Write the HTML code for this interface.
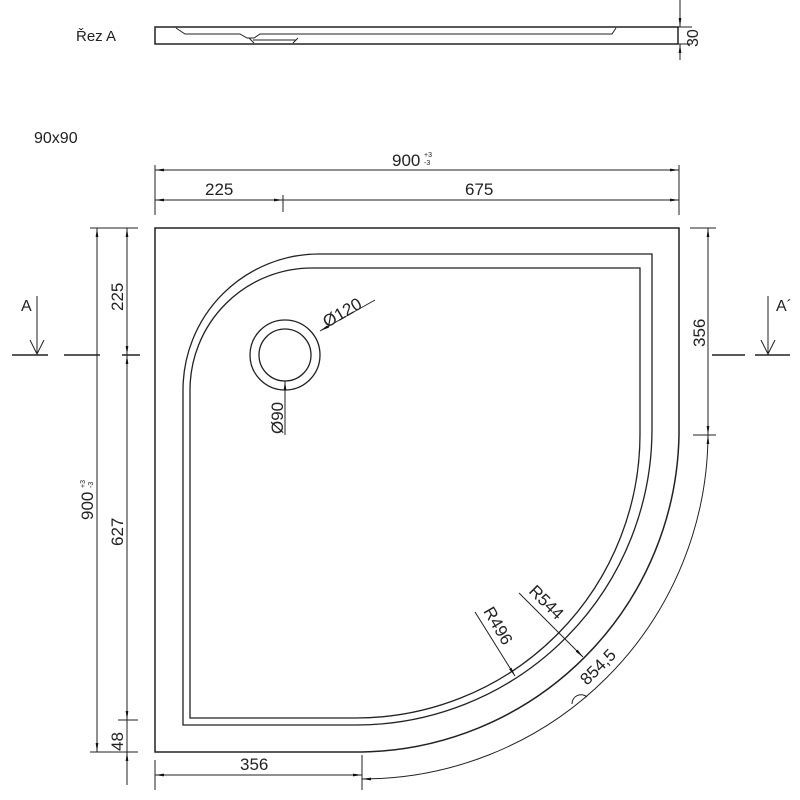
<!DOCTYPE html>
<html><head><meta charset="utf-8"><style>
html,body{margin:0;padding:0;background:#fff;width:800px;height:800px;overflow:hidden}
text{font-family:"Liberation Sans",sans-serif;fill:#222}
</style></head><body>
<svg width="800" height="800" viewBox="0 0 800 800" xmlns="http://www.w3.org/2000/svg">
<defs>
<marker id="a" viewBox="0 0 10 10" refX="10" refY="5" markerWidth="9" markerHeight="9" orient="auto-start-reverse"><path d="M0,3.5 L10,5 L0,6.5 z" fill="#111"/></marker>
</defs>
<g stroke="#222" fill="none" stroke-width="1">
<!-- section view -->
<text x="76" y="41" font-size="15" stroke="none">Řez A</text>
<rect x="155" y="27" width="523" height="17" stroke-width="1.5"/>
<path d="M176,28 L185,34 L240,34 L247,38 L254,38 L260,34 L612,34 L616,28"/>
<path d="M249,38 L254,43 M298,38 L293,43 M253,40 L296,40"/>
<path d="M660,27 L692,27 M660,44 L692,44"/>
<line x1="680" y1="0" x2="680" y2="27" marker-end="url(#a)"/>
<line x1="680" y1="60" x2="680" y2="44" marker-end="url(#a)"/>
<text x="0" y="0" font-size="16" stroke="none" transform="translate(698,47) rotate(-90)">30</text>

<text x="34" y="143" font-size="16" stroke="none">90x90</text>

<!-- main outline -->
<path d="M155,228 L679,228 L679,435 A323,323 0 0 1 362,752 L155,752 Z" stroke-width="1.5"/>
<path d="M183,390 A136,136 0 0 1 319,254 L652,254 L652,429 A296,296 0 0 1 356,725 L183,725 Z" stroke-width="1.3"/>
<path d="M190,390 A122,122 0 0 1 312,268 L640,268 L640,432 A284,284 0 0 1 356,718 L190,718 Z" stroke-width="1.3"/>
<!-- arc length dim -->
<path d="M708,435 A346,346 0 0 1 362,779" marker-start="url(#a)" marker-end="url(#a)"/>
<!-- drain -->
<circle cx="285" cy="355" r="35" stroke-width="1.3"/>
<circle cx="285" cy="355" r="26" stroke-width="1.3"/>
<line x1="375" y1="300" x2="320" y2="331" marker-end="url(#a)"/>
<text x="0" y="0" font-size="17" stroke="none" transform="translate(327,328) rotate(-30)">Ø120</text>
<line x1="285" y1="435" x2="285" y2="381" marker-end="url(#a)"/>
<text x="0" y="0" font-size="17" stroke="none" transform="translate(283,434) rotate(-90)">Ø90</text>
<!-- radii -->
<line x1="475" y1="612" x2="515" y2="676" marker-end="url(#a)"/>
<text x="0" y="0" font-size="17" stroke="none" transform="translate(483,611) rotate(60)">R496</text>
<line x1="519" y1="593" x2="583" y2="657" marker-end="url(#a)"/>
<text x="0" y="0" font-size="17" stroke="none" transform="translate(528,592) rotate(45)">R544</text>
<text x="0" y="0" font-size="17" stroke="none" transform="translate(587,686) rotate(-45)">854,5</text>
<path d="M572,704 A9,9 0 0 1 587,697"/>

<!-- top dims -->
<line x1="155" y1="165" x2="155" y2="215"/>
<line x1="679" y1="165" x2="679" y2="215"/>
<line x1="283" y1="195" x2="283" y2="212"/>
<line x1="155" y1="170" x2="679" y2="170" marker-start="url(#a)" marker-end="url(#a)"/>
<text x="392" y="166" font-size="17" stroke="none">900</text>
<text x="424" y="157" font-size="7" stroke="none">+3</text>
<text x="424" y="165" font-size="7" stroke="none">-3</text>
<line x1="155" y1="200" x2="283" y2="200" marker-start="url(#a)" marker-end="url(#a)"/>
<line x1="283" y1="200" x2="679" y2="200" marker-end="url(#a)"/>
<text x="205" y="195" font-size="17" stroke="none">225</text>
<text x="465" y="195" font-size="17" stroke="none">675</text>

<!-- left dims -->
<line x1="90" y1="228" x2="138" y2="228"/>
<line x1="90" y1="752" x2="138" y2="752"/>
<line x1="118" y1="720" x2="138" y2="720"/>
<line x1="97" y1="228" x2="97" y2="752" marker-start="url(#a)" marker-end="url(#a)"/>
<line x1="127" y1="228" x2="127" y2="355" marker-start="url(#a)" marker-end="url(#a)"/>
<line x1="127" y1="355" x2="127" y2="720" marker-start="url(#a)" marker-end="url(#a)"/>
<line x1="127" y1="785" x2="127" y2="752" marker-end="url(#a)"/>
<line x1="127" y1="720" x2="127" y2="752"/>
<text x="0" y="0" font-size="17" stroke="none" transform="translate(93,520) rotate(-90)">900</text>
<text x="0" y="0" font-size="7" stroke="none" transform="translate(85,488) rotate(-90)">+3</text>
<text x="0" y="0" font-size="7" stroke="none" transform="translate(93,488) rotate(-90)">-3</text>
<text x="0" y="0" font-size="17" stroke="none" transform="translate(123,311) rotate(-90)">225</text>
<text x="0" y="0" font-size="17" stroke="none" transform="translate(123,546) rotate(-90)">627</text>
<text x="0" y="0" font-size="17" stroke="none" transform="translate(123,751) rotate(-90)">48</text>
<!-- section A -->
<line x1="12" y1="355" x2="48" y2="355" stroke-width="1.5"/>
<line x1="64" y1="355" x2="100" y2="355" stroke-width="1.5"/>
<line x1="122" y1="355" x2="140" y2="355" stroke-width="1.5"/>
<path d="M37,296 L37,354 M30,340 L37,354 L44,340"/>
<text x="21" y="311" font-size="16" stroke="none">A</text>
<!-- right -->
<line x1="690" y1="228" x2="716" y2="228"/>
<line x1="693" y1="435" x2="716" y2="435"/>
<line x1="708" y1="228" x2="708" y2="435" marker-start="url(#a)" marker-end="url(#a)"/>
<text x="0" y="0" font-size="17" stroke="none" transform="translate(705,347) rotate(-90)">356</text>
<line x1="712" y1="355" x2="745" y2="355" stroke-width="1.5"/>
<line x1="755" y1="355" x2="790" y2="355" stroke-width="1.5"/>
<path d="M768,296 L768,354 M761,340 L768,354 L775,340"/>
<text x="776" y="311" font-size="16" stroke="none">A´</text>
<!-- bottom -->
<line x1="155" y1="760" x2="155" y2="790"/>
<line x1="362" y1="755" x2="362" y2="790"/>
<line x1="155" y1="775" x2="362" y2="775" marker-start="url(#a)" marker-end="url(#a)"/>
<text x="240" y="770" font-size="17" stroke="none">356</text>
</g>
</svg>
</body></html>
